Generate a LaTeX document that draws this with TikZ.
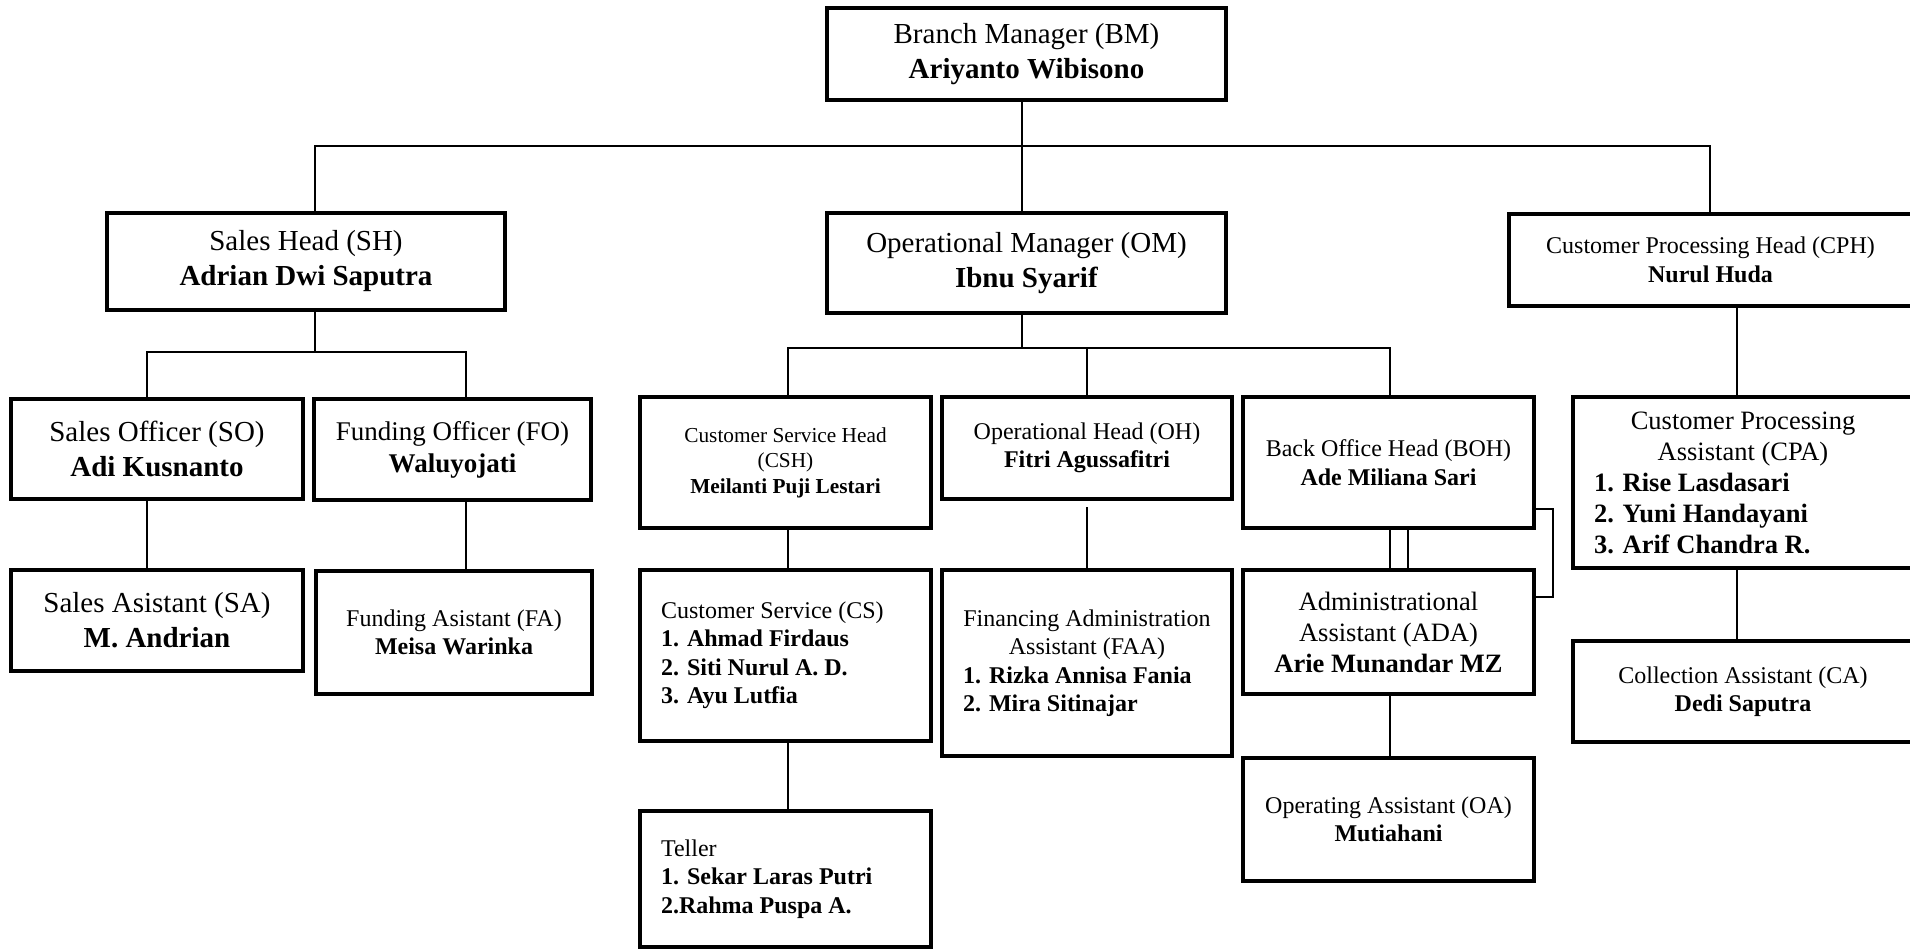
\documentclass[tikz,border=0pt]{standalone}
\usepackage{fontspec}
\setmainfont{Liberation Serif}
\usetikzlibrary{calc, positioning}
\newcommand{\listrow}[2][249pt]{\makebox[#1][l]{#2}}

\begin{document}
\begin{tikzpicture}[x=1pt,y=-1pt,
    post/.style={draw, line width=4pt, inner sep=0pt, align=center},
    link/.style={line width=1.4pt},
    sizeL/.style={font=\fontsize{29}{35}\selectfont},
    sizeF/.style={font=\fontsize{27}{32}\selectfont},
    sizeM/.style={font=\fontsize{26.5}{31}\selectfont},
    sizeS/.style={font=\fontsize{24}{28.5}\selectfont},
    sizeXS/.style={font=\fontsize{21.3}{25.5}\selectfont}]
\useasboundingbox (0,0) rectangle (1910,951);
\def\topbus{146}
\def\salesbus{352}
\def\opbus{348}

\node[post, sizeL, minimum width=399, minimum height=92] (bm) at (1026.5,54) {Branch Manager (BM)\\\textbf{Ariyanto Wibisono}};
\node[post, sizeL, minimum width=399, minimum height=100] (om) at (1026.5,263) {Operational Manager (OM)\\\textbf{Ibnu Syarif}};
\node[post, sizeL, minimum width=398, minimum height=97] (sh) at (306,261.5) {Sales Head (SH)\\\textbf{Adrian Dwi Saputra}};
\node[post, sizeS, minimum width=403, minimum height=92] (cph) at (1710.5,260) {Customer Processing Head (CPH)\\\textbf{Nurul Huda}};

\node[post, sizeL, minimum width=292, minimum height=100] (so) at (157,449) {Sales Officer (SO)\\\textbf{Adi Kusnanto}};
\node[post, sizeF, minimum width=277, minimum height=101] (fo) at (452.5,449.5) {Funding Officer (FO)\\\textbf{Waluyojati}};
\node[post, sizeL, minimum width=292, minimum height=101] (sa) at (157,620.5) {Sales Asistant (SA)\\\textbf{M. Andrian}};
\node[post, sizeS, minimum width=276, minimum height=123] (fa) at (454,632.5) {Funding Asistant (FA)\\\textbf{Meisa Warinka}};

\node[post, sizeXS, minimum width=291, minimum height=131] (csh) at (785.5,462.5) {Customer Service Head\\(CSH)\\\textbf{Meilanti Puji Lestari}};
\node[post, sizeS, minimum width=290, minimum height=102] (oh) at (1087,448) {Operational Head (OH)\\\textbf{Fitri Agussafitri}};
\node[post, sizeS, minimum width=291, minimum height=131] (boh) at (1388.5,462.5) {Back Office Head (BOH)\\\textbf{Ade Miliana Sari}};

\node[post, sizeS, minimum width=291, minimum height=171] (cs) at (785.5,655.5) {\listrow{Customer Service (CS)}\\\listrow{\textbf{1. Ahmad Firdaus}}\\\listrow{\textbf{2. Siti Nurul A. D.}}\\\listrow{\textbf{3. Ayu Lutfia}}};
\node[post, sizeS, minimum width=290, minimum height=186] (faa) at (1087,663) {Financing Administration\\Assistant (FAA)\\\listrow[248pt]{\textbf{1. Rizka Annisa Fania}}\\\listrow[248pt]{\textbf{2. Mira Sitinajar}}};
\node[post, sizeM, minimum width=291, minimum height=124] (ada) at (1388.5,632) {Administrational\\Assistant (ADA)\\\textbf{Arie Munandar MZ}};
\node[post, sizeS, minimum width=291, minimum height=136] (teller) at (785.5,879) {\listrow{Teller}\\\listrow{\textbf{1. Sekar Laras Putri}}\\\listrow{\textbf{2.Rahma Puspa A.}}};
\node[post, sizeS, minimum width=291, minimum height=123] (oa) at (1388.5,819.5) {Operating Assistant (OA)\\\textbf{Mutiahani}};

\node[post, sizeM, minimum width=340, minimum height=171] (cpa) at (1743,482.5) {Customer Processing\\Assistant (CPA)\\\listrow[298pt]{\textbf{1. Rise Lasdasari}}\\\listrow[298pt]{\textbf{2. Yuni Handayani}}\\\listrow[298pt]{\textbf{3. Arif Chandra R.}}};
\node[post, sizeS, minimum width=340, minimum height=101] (ca) at (1743,691.5) {Collection Assistant (CA)\\\textbf{Dedi Saputra}};

\coordinate (bmtap) at (1022,\topbus);
\coordinate (shtap) at (315,\topbus);
\coordinate (cphtap) at (1710,\topbus);
\coordinate (sotap) at (147,\salesbus);
\coordinate (fotap) at (466,\salesbus);
\coordinate (cshtap) at (788,\opbus);
\coordinate (ohtap) at (1087,\opbus);
\coordinate (bohtap) at (1390,\opbus);
\coordinate (bohtwin) at (1408,\opbus);
\coordinate (bend) at (1553,509);
\coordinate (bendlow) at (1553,597);
\coordinate (cpatap) at (1737,\topbus);

\draw[link] (bm.south -| bmtap) -- (om.north -| bmtap);
\draw[link] (sh.north -| shtap) |- (cphtap) -- (cph.north -| cphtap);

\draw[link] (sh.south -| shtap) -- (shtap |- sotap);
\draw[link] (so.north -| sotap) |- (fotap) -- (fo.north -| fotap);
\draw[link] (so.south -| sotap) -- (sa.north -| sotap);
\draw[link] (fo.south -| fotap) -- (fa.north -| fotap);

\draw[link] (om.south -| bmtap) -- (bmtap |- cshtap);
\draw[link] (csh.north -| cshtap) |- (bohtap) -- (boh.north -| bohtap);
\draw[link] (ohtap) -- (oh.north -| ohtap);
\draw[link] (csh.south -| cshtap) -- (cs.north -| cshtap);
\draw[link] (cs.south -| cshtap) -- (teller.north -| cshtap);
\draw[link] ($(oh.south -| ohtap)+(0,6)$) -- (faa.north -| ohtap);
\draw[link] (boh.south -| bohtap) -- (ada.north -| bohtap);
\draw[link] (boh.south -| bohtwin) -- (ada.north -| bohtwin);
\draw[link] (boh.east |- bend) -- (bend) -- (bendlow) -- (ada.east |- bendlow);
\draw[link] (ada.south -| bohtap) -- (oa.north -| bohtap);

\draw[link] (cph.south -| cpatap) -- (cpa.north -| cpatap);
\draw[link] (cpa.south -| cpatap) -- (ca.north -| cpatap);
\end{tikzpicture}
\end{document}
